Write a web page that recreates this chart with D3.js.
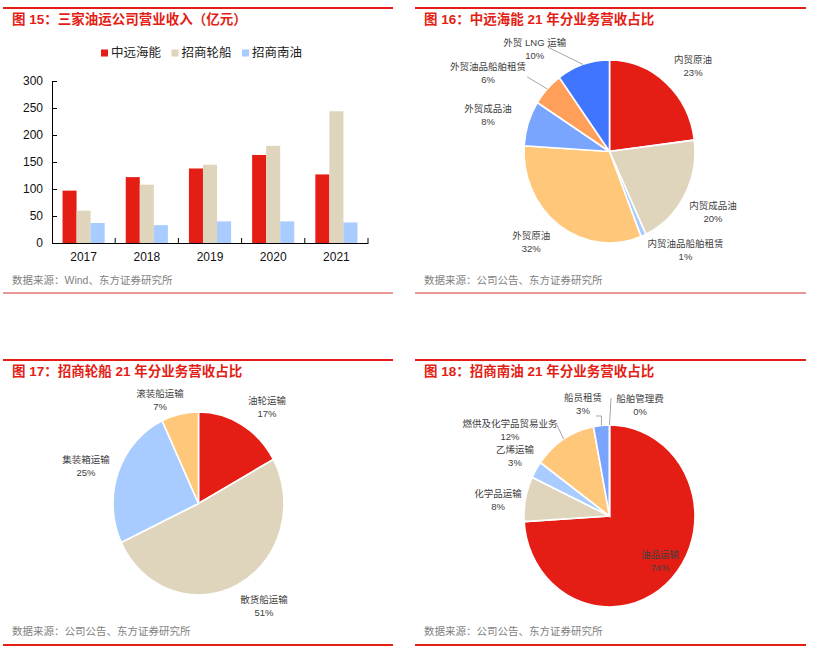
<!DOCTYPE html>
<html>
<head>
<meta charset="utf-8">
<script src="https://cdn.jsdelivr.net/npm/d3@7"></script>
<style>
  body { margin: 0; background: #fff; }
  svg { display: block; }
  text { font-family: "Liberation Sans", Arial, "Noto Sans CJK SC", sans-serif; }
</style>
</head>
<body>
<div class="canvas"></div>
<script>
// data: bar chart (亿元)
const years = ['2017', '2018', '2019', '2020', '2021'];
const companies = ['中远海能', '招商轮船', '招商南油'];
const coscoRev = [97, 122, 138, 163, 127];
const cmesRev = [60, 108, 145, 180, 244];
const cmnRev = [37, 33, 40, 40, 38];
const yTicks = [0, 50, 100, 150, 200, 250, 300];

// data: pies (%)
const coscoSegs = ['内贸原油', '内贸成品油', '内贸油品船舶租赁', '外贸原油', '外贸成品油', '外贸油品船舶租赁', '外贸 LNG 运输'];
const coscoShare = [23, 20, 1, 32, 8, 6, 10];
const cmesSegs = ['油轮运输', '散货船运输', '集装箱运输', '滚装船运输'];
const cmesShare = [17, 51, 25, 7];
const cmnSegs = ['油品运输', '化学品运输', '乙烯运输', '燃供及化学品贸易业务', '船员租赁', '船舶管理费'];
const cmnShare = [74, 8, 3, 12, 3, 0];

const RED = '#e41e15', BEIGE = '#dfd5bd', LBLUE = '#a8ccff', YELLOW = '#ffc77a',
      MBLUE = '#79a5ff', ORANGE = '#ff9f5a', BLUE = '#4076ff';

const svg = d3.select('.canvas').append('svg')
    .attr('width', 813).attr('height', 659);
svg.append('rect').attr('width', 813).attr('height', 659).attr('fill', '#fff');

// panel frames: titles, red rules, sources
const panels = [
  {x0: 3, x1: 393, top: 8, bottom: 293, bw: 1, bc: '#cf2f2c', tx: 12, ty: 24,
   title: '图 15：三家油运公司营业收入（亿元）', src: '数据来源：Wind、东方证券研究所', sy: 284},
  {x0: 415, x1: 806, top: 8, bottom: 293, bw: 1, bc: '#cf2f2c', tx: 424, ty: 24,
   title: '图 16：中远海能 21 年分业务营收占比', src: '数据来源：公司公告、东方证券研究所', sy: 284},
  {x0: 3, x1: 393, top: 360, bottom: 645, bw: 2, bc: RED, tx: 12, ty: 376,
   title: '图 17：招商轮船 21 年分业务营收占比', src: '数据来源：公司公告、东方证券研究所', sy: 635},
  {x0: 415, x1: 806, top: 360, bottom: 645, bw: 2, bc: RED, tx: 424, ty: 376,
   title: '图 18：招商南油 21 年分业务营收占比', src: '数据来源：公司公告、东方证券研究所', sy: 635}
];
panels.forEach(p => {
  svg.append('line').attr('x1', p.x0).attr('x2', p.x1).attr('y1', p.top).attr('y2', p.top)
    .attr('stroke', RED).attr('stroke-width', 2);
  svg.append('line').attr('x1', p.x0).attr('x2', p.x1).attr('y1', p.bottom).attr('y2', p.bottom)
    .attr('stroke', p.bc).attr('stroke-width', p.bw);
  svg.append('text').attr('x', p.tx).attr('y', p.ty).text(p.title)
    .attr('fill', RED).attr('font-size', 13.5).attr('font-weight', 'bold');
  svg.append('text').attr('x', p.tx).attr('y', p.sy).text(p.src)
    .attr('fill', '#7f7f7f').attr('font-size', 10.5);
});

// ---- bar chart ----
const barColors = [RED, BEIGE, LBLUE];
const series = [coscoRev, cmesRev, cmnRev];
const x = d3.scaleBand().domain(years).range([52, 368]);
const pad = x.bandwidth() / 6;
const x1 = d3.scaleBand().domain(companies).range([pad, x.bandwidth() - pad]);
const y = d3.scaleLinear().domain([0, 300]).range([243, 81]);

const bars = svg.append('g');
years.forEach((yr, i) => {
  bars.selectAll(null).data(companies.map((c, k) => ({c, v: series[k][i], k})))
    .join('rect')
    .attr('x', d => x(yr) + x1(d.c))
    .attr('width', x1.bandwidth())
    .attr('y', d => y(d.v))
    .attr('height', d => y(0) - y(d.v))
    .attr('fill', d => barColors[d.k]);
});

const yAxis = svg.append('g').attr('transform', 'translate(52,0)')
  .call(d3.axisLeft(y).tickValues(yTicks).tickSizeInner(-5).tickSizeOuter(0).tickPadding(9));
const xAxis = svg.append('g').attr('transform', 'translate(0,243)')
  .call(d3.axisBottom(x).tickSize(0).tickPadding(9));
xAxis.selectAll(null).data(years.map(yr => x(yr) + x.bandwidth()))
  .join('line').attr('x1', d => d).attr('x2', d => d).attr('y1', 0).attr('y2', -5)
  .attr('stroke', '#000');
[yAxis, xAxis].forEach(a => {
  a.selectAll('path, line').attr('stroke', '#000');
  a.selectAll('text').attr('font-size', 12).attr('fill', '#111')
    .attr('font-family', '"Liberation Sans", Arial, sans-serif');
});

// legend
const legend = svg.append('g');
companies.forEach((c, i) => {
  const lx = 101 + i * 70.5;
  legend.append('rect').attr('x', lx).attr('y', 49.5).attr('width', 7).attr('height', 7)
    .attr('fill', barColors[i]);
  legend.append('text').attr('x', lx + 10).attr('y', 53).attr('dy', '0.35em')
    .attr('font-size', 12.5).attr('fill', '#222').text(c);
});

// ---- pies ----
const rad = Math.PI / 180;
function drawPie(names, shares, colors, cfg) {
  const data = names.map((n, i) => ({n, v: shares[i], c: colors[i], i}));
  const arcs = d3.pie().sort(null).value(d => d.v)(data);
  const arc = d3.arc().innerRadius(0).outerRadius(cfg.rx);
  const g = svg.append('g')
    .attr('transform', `translate(${cfg.cx},${cfg.cy}) scale(1,${cfg.ry / cfg.rx})`);
  g.selectAll('path').data(arcs).join('path')
    .attr('d', arc).attr('fill', d => d.data.c)
    .attr('stroke', '#fff').attr('stroke-width', 1.6);

  const pt = (ang, r) => [cfg.cx + r * cfg.rx * Math.sin(ang * rad), cfg.cy - r * cfg.ry * Math.cos(ang * rad)];
  arcs.forEach((a, i) => {
    const mid = (a.startAngle + a.endAngle) / 2 / rad;
    const [off, r] = cfg.labels[i];
    const [lx, ly] = pt(mid + off, r);
    const lead = cfg.leaders[i];
    if (lead) {
      const s = [lx + lead.s[0], ly + lead.s[1]];
      const e = pt(mid, 1);
      const pts = lead.elbow ? [s, [e[0], s[1]], e] : [s, e];
      svg.append('path').attr('d', d3.line()(pts))
        .attr('fill', 'none').attr('stroke', '#a6a6a6').attr('stroke-width', 1);
    }
    const t = svg.append('text').attr('text-anchor', 'middle')
      .attr('font-size', 9.5).attr('fill', '#404040');
    t.append('tspan').attr('x', lx).attr('y', ly - 6.5).attr('dy', '0.35em').text(a.data.n);
    t.append('tspan').attr('x', lx).attr('y', ly + 6.5).attr('dy', '0.35em').text(a.data.v + '%');
  });
}

drawPie(coscoSegs, coscoShare, [RED, BEIGE, LBLUE, YELLOW, MBLUE, ORANGE, BLUE], {
  cx: 609.5, cy: 151.5, rx: 85.5, ry: 91.5,
  labels: [[5, 1.35], [0, 1.38], [-16, 1.40], [6.7, 1.35], [-2.3, 1.475], [-12, 1.66], [-20, 1.42]],
  leaders: {5: {s: [39, 4]}, 6: {s: [13, -2]}}
});
drawPie(cmesSegs, cmesShare, [RED, BEIGE, LBLUE, YELLOW], {
  cx: 198.5, cy: 503.5, rx: 85.5, ry: 91.5,
  labels: [[6.8, 1.32], [-7.4, 1.357], [-2.5, 1.378], [-9.1, 1.217]],
  leaders: {}
});
drawPie(cmnSegs, cmnShare, [RED, BEIGE, LBLUE, YELLOW, MBLUE, ORANGE], {
  cx: 609.5, cy: 516, rx: 85.5, ry: 91,
  labels: [[-2.9, 0.775], [-3.4, 1.315], [0.2, 1.287], [-18.5, 1.5], [-8.8, 1.264], [16.4, 1.265]],
  leaders: {3: {s: [47, -5]}, 4: {s: [13, 11.5], elbow: true}, 5: {s: [-29, -7.5]}}
});
</script>
</body>
</html>
